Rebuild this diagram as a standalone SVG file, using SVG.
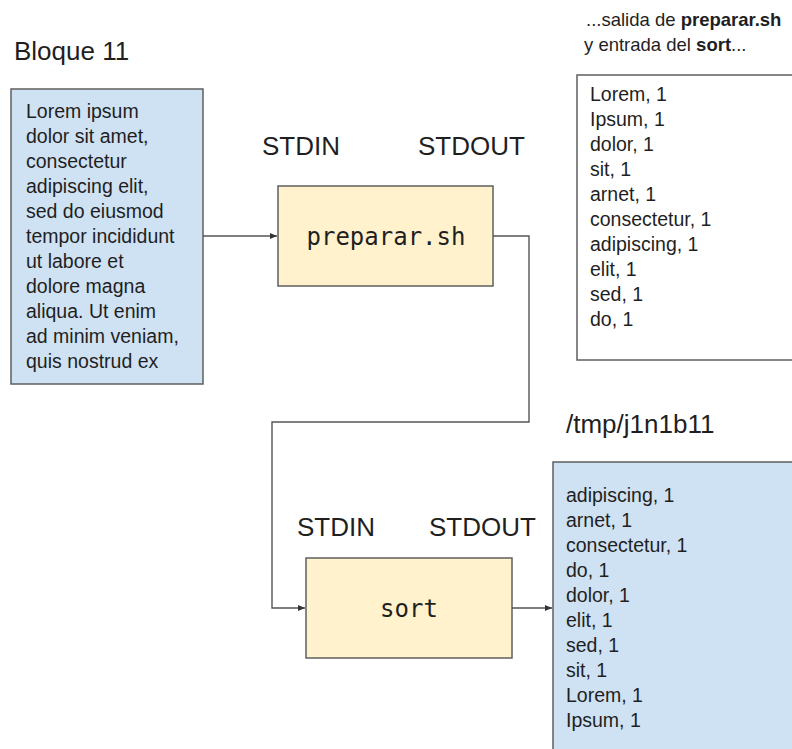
<svg xmlns="http://www.w3.org/2000/svg" width="792" height="749" viewBox="0 0 792 749">
<style>
.t{font-family:"Liberation Sans",Arial,sans-serif;fill:#1f1f1f}
.lbl{font-size:26px}
.body{font-size:19.5px}
.mono{font-family:"DejaVu Sans Mono","Liberation Mono",monospace;font-size:24px;fill:#1f1f1f;text-anchor:middle}
.blue{fill:#cfe2f3;stroke:#5f5f5f;stroke-width:1.5}
.yellow{fill:#fff2cc;stroke:#5f5f5f;stroke-width:1.5}
.white{fill:#ffffff;stroke:#5f5f5f;stroke-width:1.5}
.conn{fill:none;stroke:#555;stroke-width:1.4}
</style>
<defs>
<marker id="arr" markerWidth="8" markerHeight="8" refX="7" refY="4" orient="auto" markerUnits="userSpaceOnUse">
<path d="M0,1 L7,4 L0,7 Z" fill="#333"/>
</marker>
</defs>
<rect width="792" height="749" fill="#ffffff"/>

<g id="title">
<text class="t lbl" x="14" y="60">Bloque 11</text>
</g>

<g id="input">
<rect class="blue" x="11" y="89" width="192" height="295"/>
<text class="t body" x="26" y="118">
<tspan x="26" y="118">Lorem ipsum</tspan>
<tspan x="26" y="143">dolor sit amet,</tspan>
<tspan x="26" y="168">consectetur</tspan>
<tspan x="26" y="193">adipiscing elit,</tspan>
<tspan x="26" y="218">sed do eiusmod</tspan>
<tspan x="26" y="243">tempor incididunt</tspan>
<tspan x="26" y="268">ut labore et</tspan>
<tspan x="26" y="293">dolore magna</tspan>
<tspan x="26" y="318">aliqua. Ut enim</tspan>
<tspan x="26" y="343">ad minim veniam,</tspan>
<tspan x="26" y="368">quis nostrud ex</tspan>
</text>
</g>

<g id="preparar">
<text class="t lbl" x="262" y="155">STDIN</text>
<text class="t lbl" x="418" y="155">STDOUT</text>
<rect class="yellow" x="278" y="186" width="215" height="100"/>
<text class="mono" x="386" y="245">preparar.sh</text>
</g>

<g id="intermediate">
<text class="t" font-size="18.5" x="586" y="26">...salida de <tspan font-weight="bold">preparar.sh</tspan></text>
<text class="t" font-size="18.5" x="584" y="51">y entrada del <tspan font-weight="bold">sort</tspan>...</text>
<rect class="white" x="577" y="75" width="230" height="285"/>
<text class="t body">
<tspan x="590" y="101">Lorem, 1</tspan>
<tspan x="590" y="126">Ipsum, 1</tspan>
<tspan x="590" y="151">dolor, 1</tspan>
<tspan x="590" y="176">sit, 1</tspan>
<tspan x="590" y="201">arnet, 1</tspan>
<tspan x="590" y="226">consectetur, 1</tspan>
<tspan x="590" y="251">adipiscing, 1</tspan>
<tspan x="590" y="276">elit, 1</tspan>
<tspan x="590" y="301">sed, 1</tspan>
<tspan x="590" y="326">do, 1</tspan>
</text>
</g>

<g id="sort">
<text class="t lbl" x="297" y="536">STDIN</text>
<text class="t lbl" x="429" y="536">STDOUT</text>
<rect class="yellow" x="306" y="558" width="206" height="100"/>
<text class="mono" x="409" y="617">sort</text>
</g>

<g id="output">
<text class="t lbl" x="566" y="433">/tmp/j1n1b11</text>
<rect class="blue" x="553" y="462" width="260" height="300"/>
<text class="t body">
<tspan x="566" y="502">adipiscing, 1</tspan>
<tspan x="566" y="527">arnet, 1</tspan>
<tspan x="566" y="552">consectetur, 1</tspan>
<tspan x="566" y="577">do, 1</tspan>
<tspan x="566" y="602">dolor, 1</tspan>
<tspan x="566" y="627">elit, 1</tspan>
<tspan x="566" y="652">sed, 1</tspan>
<tspan x="566" y="677">sit, 1</tspan>
<tspan x="566" y="702">Lorem, 1</tspan>
<tspan x="566" y="727">Ipsum, 1</tspan>
</text>
</g>

<g id="connectors">
<path class="conn" d="M203,236 L277,236" marker-end="url(#arr)"/>
<path class="conn" d="M493,236 L529,236 L529,422 L272,422 L272,608 L305,608" marker-end="url(#arr)"/>
<path class="conn" d="M512,608 L552,608" marker-end="url(#arr)"/>
</g>
</svg>
